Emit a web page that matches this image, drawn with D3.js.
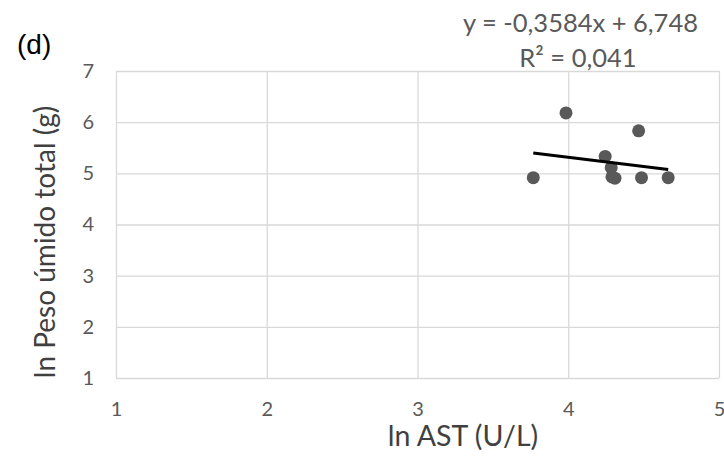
<!DOCTYPE html>
<html><head><meta charset="utf-8">
<script src="https://cdn.jsdelivr.net/npm/d3@7"></script>
<style>body{margin:0;background:#fff}svg{display:block}</style>
</head><body>
<svg id="c" width="724" height="456"></svg>
<script>
const xVals = [3.768, 3.985, 4.467, 4.245, 4.285, 4.29, 4.31, 4.486, 4.663];
const yVals = [4.915, 6.18, 5.83, 5.33, 5.11, 4.93, 4.905, 4.915, 4.915];
const xTicks = [1, 2, 3, 4, 5];
const yTicks = [1, 2, 3, 4, 5, 6, 7];
const slope = -0.3584, intercept = 6.748;
const eqLabel = "y = -0,3584x + 6,748";
const r2Label = "R² = 0,041";
const panelLabel = "(d)";
const xTitle = "ln AST (U/L)";
const yTitle = "ln Peso úmido total  (g)";

const svg = d3.select("#c");
const font = "Lato,'Open Sans',sans-serif";
const x = d3.scaleLinear().domain([1, 5]).range([116, 719]);
const y = d3.scaleLinear().domain([1, 7]).range([378, 71]);

// gridlines
svg.append("g").attr("transform", "translate(0,378)")
  .call(d3.axisBottom(x).tickValues(xTicks).tickSize(-(378 - 71)).tickFormat(""))
  .call(g => g.select(".domain").remove())
  .call(g => g.selectAll("line").attr("stroke", "#d9d9d9").attr("stroke-width", 1.3));
svg.append("g").attr("transform", "translate(116,0)")
  .call(d3.axisLeft(y).tickValues(yTicks).tickSize(-(719 - 116)).tickFormat(""))
  .call(g => g.select(".domain").remove())
  .call(g => g.selectAll("line").attr("stroke", "#d9d9d9").attr("stroke-width", 1.3));

// tick labels
svg.append("g").attr("transform", "translate(0,378)")
  .call(d3.axisBottom(x).tickValues(xTicks).tickSize(0).tickPadding(24).tickFormat(d3.format("d")))
  .call(g => g.select(".domain").remove())
  .call(g => g.selectAll("text").attr("fill", "#595959").style("font-family", font).style("font-size", "20px"));
svg.append("g").attr("transform", "translate(116,0)")
  .call(d3.axisLeft(y).tickValues(yTicks).tickSize(0).tickPadding(22).tickFormat(d3.format("d")))
  .call(g => g.select(".domain").remove())
  .call(g => g.selectAll("text").attr("fill", "#595959").style("font-family", font).style("font-size", "20px"));

// points
svg.append("g").selectAll("circle").data(xVals.map((v, i) => [v, yVals[i]])).join("circle")
  .attr("cx", d => x(d[0])).attr("cy", d => y(d[1])).attr("r", 6.5).attr("fill", "#595959");

// trend line
const xmin = d3.min(xVals), xmax = d3.max(xVals);
svg.append("line")
  .attr("x1", x(xmin)).attr("y1", y(slope * xmin + intercept))
  .attr("x2", x(xmax)).attr("y2", y(slope * xmax + intercept))
  .attr("stroke", "#000").attr("stroke-width", 3);

// texts
svg.append("text").attr("x", 698).attr("y", 32).attr("text-anchor", "end")
  .attr("fill", "#595959").style("font-family", font).style("font-size", "25.5px").text(eqLabel);
svg.append("text").attr("x", 578).attr("y", 67).attr("text-anchor", "middle")
  .attr("fill", "#595959").style("font-family", font).style("font-size", "25.5px").text(r2Label);
svg.append("text").attr("x", 17).attr("y", 54)
  .attr("fill", "#000").style("font-family", "'Liberation Sans',Arial,sans-serif").style("font-size", "28px").text(panelLabel);
svg.append("text").attr("x", 463).attr("y", 446).attr("text-anchor", "middle")
  .attr("fill", "#404040").style("font-family", font).style("font-size", "28.5px").text(xTitle);
svg.append("text").attr("transform", "translate(55,242) rotate(-90)").attr("text-anchor", "middle")
  .attr("fill", "#404040").style("font-family", font).style("font-size", "28px").text(yTitle);
</script>
</body></html>
